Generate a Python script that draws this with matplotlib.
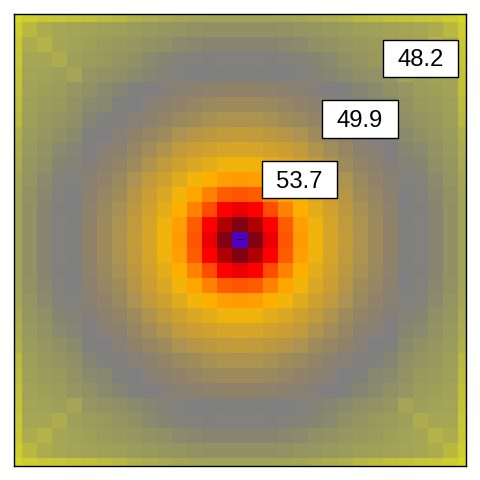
"""Radial field on a 31x31 grid with white value boxes."""
import numpy as np
import matplotlib
matplotlib.use("Agg")
import matplotlib.pyplot as plt
from matplotlib.colors import LinearSegmentedColormap
from matplotlib.patches import Rectangle

plt.rcParams["font.family"] = ["Liberation Sans", "DejaVu Sans"]

# quarter of the field: row/col 0 is the centre cell, 15 the edge
QUARTER = [
    [60.0, 59.0, 57.2, 55.6, 54.5, 53.7, 52.7, 51.8, 51.1, 50.7, 50.3, 49.95, 49.9, 49.6, 49.15, 48.6],
    [59.0, 58.0, 56.5, 55.5, 54.4, 53.6, 52.6, 51.7, 51.1, 50.7, 50.3, 49.95, 49.9, 49.6, 49.15, 48.6],
    [57.2, 56.5, 55.7, 55.0, 54.1, 53.2, 52.4, 51.6, 51.0, 50.65, 50.25, 49.95, 49.85, 49.55, 49.15, 48.6],
    [55.6, 55.5, 55.0, 54.3, 53.7, 52.8, 52.1, 51.4, 50.8, 50.5, 50.2, 49.95, 49.8, 49.5, 49.1, 48.55],
    [54.5, 54.4, 54.1, 53.7, 53.0, 52.3, 51.7, 51.1, 50.65, 50.35, 50.1, 49.9, 49.75, 49.4, 49.0, 48.5],
    [53.7, 53.6, 53.2, 52.8, 52.3, 51.7, 51.2, 50.75, 50.4, 50.2, 50.0, 49.75, 49.6, 49.2, 48.95, 48.4],
    [52.7, 52.6, 52.4, 52.1, 51.7, 51.2, 50.85, 50.5, 50.2, 50.05, 49.95, 49.6, 49.4, 49.1, 48.85, 48.3],
    [51.8, 51.7, 51.6, 51.4, 51.1, 50.75, 50.5, 50.25, 50.05, 49.95, 49.85, 49.4, 49.15, 48.95, 48.8, 48.2],
    [51.1, 51.1, 51.0, 50.8, 50.65, 50.4, 50.2, 50.05, 49.95, 49.85, 49.6, 49.2, 49.0, 48.85, 48.7, 48.0],
    [50.7, 50.7, 50.65, 50.5, 50.35, 50.2, 50.05, 49.95, 49.85, 49.5, 49.4, 49.1, 48.85, 48.8, 48.65, 47.9],
    [50.3, 50.3, 50.25, 50.2, 50.1, 50.0, 49.95, 49.85, 49.6, 49.4, 49.15, 48.95, 48.75, 48.7, 48.6, 47.8],
    [49.95, 49.95, 49.95, 49.95, 49.9, 49.75, 49.6, 49.4, 49.2, 49.1, 48.95, 48.5, 48.7, 48.6, 48.55, 47.7],
    [49.9, 49.9, 49.85, 49.8, 49.75, 49.6, 49.4, 49.15, 49.0, 48.85, 48.75, 48.7, 48.3, 48.5, 48.45, 47.6],
    [49.6, 49.6, 49.55, 49.5, 49.4, 49.2, 49.1, 48.95, 48.85, 48.8, 48.7, 48.6, 48.5, 48.15, 48.3, 47.55],
    [49.15, 49.15, 49.15, 49.1, 49.0, 48.95, 48.85, 48.8, 48.7, 48.65, 48.6, 48.55, 48.45, 48.3, 48.0, 47.4],
    [48.6, 48.6, 48.6, 48.55, 48.5, 48.4, 48.3, 48.2, 48.0, 47.9, 47.8, 47.7, 47.6, 47.55, 47.4, 47.0],
]
LABELS = ["48.2", "49.9", "53.7"]

# colour stops: value -> rgb
STOP_VALUES = [47.0, 47.4, 48.0, 48.3, 48.6, 48.8, 48.95, 49.15, 49.4, 49.6, 49.85, 49.95,
               50.05, 50.3, 50.7, 51.1, 51.8, 52.7, 53.7, 54.1,
               54.5, 55.0, 55.6, 56.5, 57.2, 58.0, 59.0, 60.0]
STOP_COLORS = [(215, 215, 35), (205, 205, 48), (185, 185, 65), (172, 172, 78), (162, 162, 88),
               (155, 155, 92), (150, 150, 96), (145, 145, 101), (138, 138, 108), (133, 133, 113),
               (129, 129, 123), (128, 128, 128), (135, 128, 118), (144, 130, 104), (156, 138, 93),
               (172, 147, 82), (195, 155, 55), (215, 165, 40), (243, 180, 10), (255, 175, 0),
               (255, 155, 0), (255, 130, 0), (255, 85, 0), (255, 0, 0), (232, 0, 0),
               (175, 0, 0), (128, 0, 20), (80, 0, 190)]

# label boxes in image pixels: left, top, right, bottom
BOX_PX = [(383.0, 40.0, 458.0, 77.0), (322.0, 100.0, 398.0, 138.0), (262.0, 161.0, 337.0, 198.0)]

lo, hi = STOP_VALUES[0], STOP_VALUES[-1]
cmap = LinearSegmentedColormap.from_list(
    "field", [((v - lo) / (hi - lo), tuple(c / 255 for c in rgb)) for v, rgb in zip(STOP_VALUES, STOP_COLORS)], N=2048)

q = np.array(QUARTER)
right = np.hstack([q[:, :0:-1], q])
field = np.vstack([right[:0:-1], right])

fig = plt.figure(figsize=(4.8, 4.8), dpi=100)
ax = fig.add_axes([14.0 / 480, 1 - 466.0 / 480, 452 / 480, 452 / 480])
ax.pcolormesh(np.arange(31), np.arange(31), field, cmap=cmap, vmin=lo, vmax=hi, shading="nearest", rasterized=True)
ax.set_xlim(0, 30)
ax.set_ylim(0, 30)
ax.set_xticks([])
ax.set_yticks([])
for s in ax.spines.values():
    s.set_linewidth(1.0)
    s.set_color("black")

# small dash in the centre cell
ax.plot([14.75, 15.25], [15.05, 15.05], color="#100050", lw=0.8, solid_capstyle="butt")

for label, (x0, y0, x1, y1) in zip(LABELS, BOX_PX):
    fig.add_artist(Rectangle((x0 / 480, 1 - y1 / 480), (x1 - x0) / 480, (y1 - y0) / 480,
                             transform=fig.transFigure, facecolor="white", edgecolor="black", lw=1.0))
    fig.text((x0 + x1) / 2 / 480, 1 - (y0 + y1 - 1) / 2 / 480, label, ha="center", va="center_baseline",
             fontsize=17.2, color="black")

fig.savefig("out.png", dpi=100)
